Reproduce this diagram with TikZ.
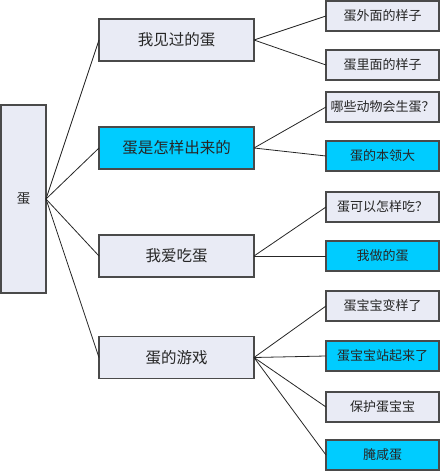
\documentclass[tikz,border=0pt]{standalone}
\usepackage{fontspec}
\setmainfont{Noto Sans CJK SC}
\definecolor{lightbox}{HTML}{E9EBF5}
\definecolor{cyanbox}{HTML}{00CCFF}
\definecolor{edgegray}{HTML}{4A4A4A}
\begin{document}
\begin{tikzpicture}[x=1pt,y=-1pt,
  base/.style={draw=edgegray,line width=1.3pt,inner sep=0pt,outer sep=0pt,text=black!85},
  rootbox/.style={base,fill=lightbox,minimum width=45pt,minimum height=188pt,font=\fontsize{13.5}{15}\selectfont},
  lonebox/.style={base,fill=lightbox,minimum width=155pt,minimum height=42pt,font=\fontsize{15.5}{17}\selectfont},
  lonecyan/.style={lonebox,fill=cyanbox},
  ltwobox/.style={base,fill=lightbox,minimum width=113pt,minimum height=30pt,font=\fontsize{13}{15}\selectfont},
  ltwocyan/.style={ltwobox,fill=cyanbox},
  link/.style={draw=black!85,line width=0.8pt}
]
\useasboundingbox (0,0) rectangle (440,471);
\node[rootbox] (r) at (23.5,199) {蛋};
\node[lonebox] (a) at (176.5,40) {我见过的蛋};
\node[lonecyan] (b) at (176.5,148) {蛋是怎样出来的};
\node[lonebox] (c) at (176.5,256) {我爱吃蛋};
\node[lonebox] (d) at (176.5,357.5) {蛋的游戏};
\node[ltwobox] (a1) at (382.5,16) {蛋外面的样子};
\node[ltwobox] (a2) at (382.5,65) {蛋里面的样子};
\node[ltwobox] (b1) at (382.5,107) {哪些动物会生蛋？};
\node[ltwocyan] (b2) at (382.5,156) {蛋的本领大};
\node[ltwobox] (c1) at (382.5,207) {蛋可以怎样吃？};
\node[ltwocyan] (c2) at (382.5,256) {我做的蛋};
\node[ltwobox] (d1) at (382.5,306) {蛋宝宝变样了};
\node[ltwocyan] (d2) at (382.5,356) {蛋宝宝站起来了};
\node[ltwobox] (d3) at (382.5,407) {保护蛋宝宝};
\node[ltwocyan] (d4) at (382.5,455) {腌咸蛋};
\foreach \t in {a,b,c,d} \draw[link] (r.east) -- (\t.west);
\foreach \t in {a1,a2} \draw[link] (a.east) -- (\t.west);
\foreach \t in {b1,b2} \draw[link] (b.east) -- (\t.west);
\foreach \t in {c1,c2} \draw[link] (c.east) -- (\t.west);
\foreach \t in {d1,d2,d3,d4} \draw[link] (d.east) -- (\t.west);
\end{tikzpicture}
\end{document}
